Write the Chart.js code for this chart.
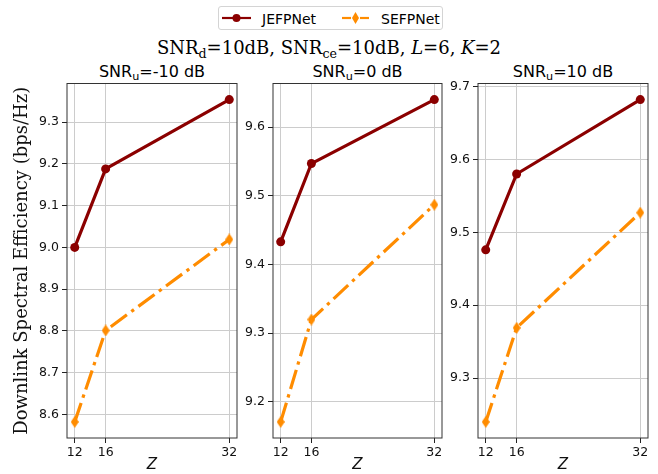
<!DOCTYPE html>
<html>
<head>
<meta charset="utf-8">
<script src="https://cdn.jsdelivr.net/npm/chart.js"></script>
<style>
    body {
        margin: 0;
        width: 658px;
        height: 474px;
        overflow: hidden;
        position: relative;
        background: #fff;
        font-family: "DejaVu Sans", sans-serif;
        color: #000;
    }
    canvas { position: absolute; }
    .legend {
        position: absolute;
        left: 218px;
        top: 6px;
        width: 223px;
        height: 22px;
        border: 1px solid #d4d4d4;
        border-radius: 3px;
        background: #fff;
    }
    .legend svg { position: absolute; left: 0; top: 0; }
    .legend span {
        position: absolute;
        top: 3.5px;
        font-size: 14px;
        line-height: 16px;
        white-space: nowrap;
    }
    .suptitle {
        position: absolute;
        left: 0;
        top: 38px;
        width: 658px;
        text-align: center;
        font-family: "DejaVu Serif", serif;
        font-size: 18px;
        line-height: 20px;
        white-space: nowrap;
    }
    .panel-title {
        position: absolute;
        top: 63px;
        width: 200px;
        text-align: center;
        font-size: 16px;
        line-height: 18px;
        white-space: nowrap;
    }
    .sub {
        font-size: 70%;
        position: relative;
        top: 0.3em;
    }
</style>
</head>
<body>

<div class="legend">
    <svg width="223" height="22">
        <line x1="3" y1="11" x2="32" y2="11" stroke="#8b0000" stroke-width="2.2" />
        <circle cx="17.5" cy="11" r="4" fill="#8b0000" />
        <line x1="123" y1="11" x2="132" y2="11" stroke="#ff8c00" stroke-width="2.2" />
        <line x1="141" y1="11" x2="150" y2="11" stroke="#ff8c00" stroke-width="2.2" />
        <polygon points="136.5,5 140,11 136.5,17 133,11" fill="#ff8c00" />
    </svg>
    <span style="left: 43px">JEFPNet</span>
    <span style="left: 162px">SEFPNet</span>
</div>

<div class="suptitle">SNR<span class="sub">d</span>=10dB, SNR<span class="sub">ce</span>=10dB, <i>L</i>=6, <i>K</i>=2</div>

<div class="panel-title" style="left: 52px">SNR<span class="sub">u</span>=-10 dB</div>
<div class="panel-title" style="left: 257.5px">SNR<span class="sub">u</span>=0 dB</div>
<div class="panel-title" style="left: 463px">SNR<span class="sub">u</span>=10 dB</div>

<canvas id="chartLow" width="247" height="401" style="left: 0px; top: 73px"></canvas>
<canvas id="chartMid" width="219" height="401" style="left: 233px; top: 73px"></canvas>
<canvas id="chartHigh" width="220" height="401" style="left: 438px; top: 73px"></canvas>

<script>
// Z values on the x axis
const zValues = [12, 16, 32];
const xTicks = [12, 16, 32];

// SNR_u = -10 dB
const jefpLow = [9.0, 9.188, 9.354];
const sefpLow = [8.582, 8.801, 9.019];
// SNR_u = 0 dB
const jefpMid = [9.433, 9.547, 9.64];
const sefpMid = [9.171, 9.32, 9.487];
// SNR_u = 10 dB
const jefpHigh = [9.476, 9.58, 9.682];
const sefpHigh = [9.24, 9.369, 9.527];

// y tick labels for each panel
const yTicksLow = [8.6, 8.7, 8.8, 8.9, 9.0, 9.1, 9.2, 9.3];
const yTicksMid = [9.2, 9.3, 9.4, 9.5, 9.6];
const yTicksHigh = [9.3, 9.4, 9.5, 9.6, 9.7];

const darkRed = "#8b0000";
const orange = "#ff8c00";

// thin diamond marker like matplotlib's "d"
function thinDiamond(color) {
    const c = document.createElement("canvas");
    c.width = 8;
    c.height = 12;
    const g = c.getContext("2d");
    g.fillStyle = color;
    g.beginPath();
    g.moveTo(4, 0);
    g.lineTo(8, 6);
    g.lineTo(4, 12);
    g.lineTo(0, 6);
    g.closePath();
    g.fill();
    return c;
}

// box around the plot area
const framePlugin = {
    id: "frame",
    afterDraw(chart) {
        const { ctx, chartArea: a } = chart;
        ctx.save();
        ctx.strokeStyle = "#333";
        ctx.lineWidth = 1;
        ctx.strokeRect(a.left, a.top, a.right - a.left, a.bottom - a.top);
        ctx.restore();
    },
};

function makePanel(id, jef, sef, yTicks, yAxisWidth, showYTitle) {
    const all = jef.concat(sef);
    const lo = Math.min(...all);
    const hi = Math.max(...all);
    const pad = (hi - lo) * 0.05;

    return new Chart(document.getElementById(id), {
        type: "line",
        data: {
            datasets: [
                {
                    label: "JEFPNet",
                    data: zValues.map((z, i) => ({ x: z, y: jef[i] })),
                    borderColor: darkRed,
                    backgroundColor: darkRed,
                    borderWidth: 3.2,
                    pointRadius: 4.5,
                    pointBorderWidth: 0,
                    pointStyle: "circle",
                    tension: 0,
                },
                {
                    label: "SEFPNet",
                    data: zValues.map((z, i) => ({ x: z, y: sef[i] })),
                    borderColor: orange,
                    backgroundColor: orange,
                    borderWidth: 3.2,
                    borderDash: [20, 5.5, 3.3, 5.5],
                    borderCapStyle: "butt",
                    pointStyle: thinDiamond(orange),
                    tension: 0,
                },
            ],
        },
        options: {
            responsive: false,
            animation: false,
            events: [],
            layout: { padding: { top: 10, right: 10, bottom: 0, left: 0 } },
            plugins: {
                legend: { display: false },
                tooltip: { enabled: false },
            },
            scales: {
                x: {
                    type: "linear",
                    min: 11,
                    max: 33,
                    afterBuildTicks: (s) => {
                        s.ticks = xTicks.map((v) => ({ value: v }));
                    },
                    afterFit: (s) => {
                        s.height = 36;
                    },
                    border: { display: false },
                    grid: {
                        color: "#cccccc",
                        lineWidth: 1,
                        tickColor: "#222",
                        tickLength: 5,
                    },
                    ticks: {
                        color: "#111",
                        font: { family: "DejaVu Sans", size: 12.5 },
                        padding: 2,
                        maxRotation: 0,
                        autoSkip: false,
                    },
                    title: {
                        display: true,
                        text: "Z",
                        color: "#111",
                        font: { family: "DejaVu Sans", size: 15, style: "italic" },
                        padding: { top: 0, bottom: 0 },
                    },
                },
                y: {
                    min: lo - pad,
                    max: hi + pad,
                    afterBuildTicks: (s) => {
                        s.ticks = yTicks.map((v) => ({ value: v }));
                    },
                    afterFit: (s) => {
                        s.width = yAxisWidth;
                    },
                    border: { display: false },
                    grid: {
                        color: "#cccccc",
                        lineWidth: 1,
                        tickColor: "#222",
                        tickLength: 5,
                    },
                    ticks: {
                        color: "#111",
                        font: { family: "DejaVu Sans", size: 12.5 },
                        padding: 3,
                        callback: (v) => v.toFixed(1),
                    },
                    title: {
                        display: showYTitle,
                        text: "Downlink Spectral Efficiency (bps/Hz)",
                        color: "#111",
                        font: { family: "DejaVu Serif", size: 18 },
                        padding: { top: 12, bottom: 0 },
                    },
                },
            },
        },
        plugins: [framePlugin],
    });
}

makePanel("chartLow", jefpLow, sefpLow, yTicksLow, 67, true);
makePanel("chartMid", jefpMid, sefpMid, yTicksMid, 40, false);
makePanel("chartHigh", jefpHigh, sefpHigh, yTicksHigh, 40, false);
</script>
</body>
</html>
